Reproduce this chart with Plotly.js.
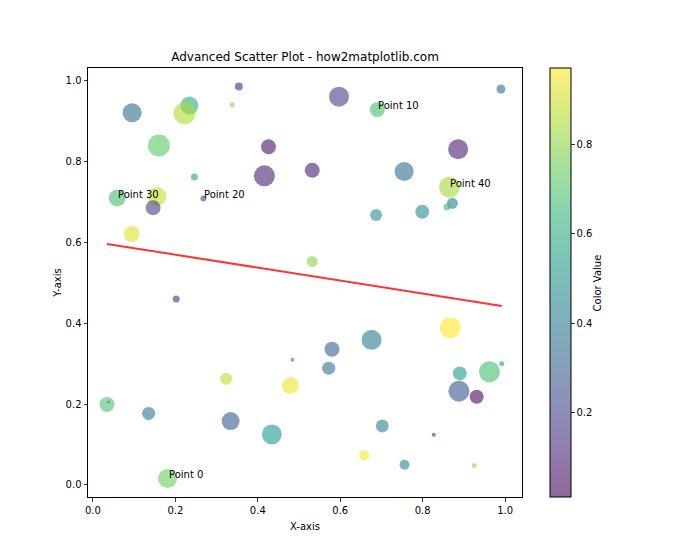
<!DOCTYPE html>
<html>
<head>
<meta charset="utf-8">
<script src="https://cdn.plot.ly/plotly-3.0.1.min.js"></script>
<style>html,body{margin:0;padding:0;background:#fff;}#chart{width:700px;height:560px;}</style>
</head>
<body>
<div id="chart"></div>
<script>
// Data
const xVals = [0.181,0.095,0.234,0.222,0.354,0.338,0.160,0.426,0.416,0.246,
               0.690,0.155,0.146,0.094,0.597,0.990,0.886,0.532,0.755,0.872,
               0.268,0.859,0.687,0.799,0.532,0.202,0.484,0.323,0.479,0.034,
               0.059,0.038,0.135,0.334,0.434,0.867,0.676,0.580,0.572,0.890,
               0.865,0.962,0.992,0.888,0.931,0.702,0.827,0.658,0.756,0.925];
const yVals = [0.016,0.921,0.939,0.920,0.986,0.941,0.840,0.837,0.765,0.762,
               0.929,0.714,0.686,0.621,0.961,0.980,0.831,0.779,0.776,0.697,
               0.709,0.688,0.668,0.676,0.553,0.460,0.310,0.263,0.246,0.199,
               0.710,0.205,0.177,0.158,0.125,0.389,0.359,0.336,0.289,0.276,
               0.737,0.280,0.300,0.232,0.218,0.146,0.124,0.073,0.050,0.048];
const colorVals = [0.75,0.35,0.60,0.85,0.12,0.78,0.72,0.06,0.10,0.57,
                   0.68,0.88,0.18,0.92,0.20,0.35,0.08,0.08,0.35,0.42,
                   0.20,0.65,0.48,0.47,0.80,0.15,0.38,0.87,0.95,0.70,
                   0.68,0.45,0.38,0.28,0.52,0.97,0.40,0.30,0.36,0.53,
                   0.84,0.68,0.58,0.25,0.03,0.45,0.15,0.96,0.45,0.82];
const sizeVals = [19,19,18,22,8,5,22,15,21,7,
                  15,19,15,16,20,9,20,15,19,11,
                  6,7,12,14,11,7,4,12,17,15,
                  17,3,13,18,20,21,20,15,13,14,
                  21,21,5,21,14,13,4,10,10,5];
const labelIdx = [0,10,20,30,40];
const trendSlope = -0.1606;
const trendIntercept = 0.602;
const colorTicks = [0.2,0.4,0.6,0.8];
const colorTickText = ['0.2','0.4','0.6','0.8'];

const viridisStops = [[0,'68,1,84'],[0.111,'72,40,120'],[0.222,'62,74,137'],[0.333,'49,104,142'],
  [0.444,'38,130,142'],[0.556,'31,158,137'],[0.667,'53,183,121'],[0.778,'110,206,88'],
  [0.889,'181,222,43'],[1,'253,231,37']];
const viridis = viridisStops.map(s=>[s[0],'rgb('+s[1]+')']);
// colorbar drawn as if at alpha 0.6 over white
const viridisFaded = viridisStops.map(s=>{
  const c = s[1].split(',').map(Number).map(v=>Math.round(0.6*v+0.4*255));
  return [s[0],'rgb('+c.join(',')+')'];
});

const xMin = Math.min(...xVals), xMax = Math.max(...xVals);
const font = {family:'DejaVu Sans, sans-serif', size:10, color:'#000'};

const traces = [{
  type:'scatter', mode:'markers', x:xVals, y:yVals, hoverinfo:'skip',
  marker:{size:sizeVals, color:colorVals, colorscale:viridis, cmin:0.01, cmax:0.972,
    opacity:0.6, line:{width:0}, showscale:false},
  showlegend:false
},{
  // colorbar carrier (invisible markers)
  type:'scatter', mode:'markers', x:xVals, y:yVals, hoverinfo:'skip',
  marker:{
    size:sizeVals, color:colorVals, colorscale:viridisFaded, cmin:0.01, cmax:0.972, opacity:0,
    showscale:true,
    colorbar:{
      x:1.0645, xanchor:'left', xpad:0, ypad:0, y:0.5, yanchor:'middle', len:1, lenmode:'fraction',
      thickness:21, thicknessmode:'pixels', outlinewidth:1, outlinecolor:'#000',
      tickvals:colorTicks, ticktext:colorTickText, ticks:'outside', ticklen:3.5,
      tickwidth:0.8, tickcolor:'#000', tickfont:font
    }
  },
  showlegend:false
},{
  type:'scatter', mode:'lines', x:[xMin,xMax],
  y:[trendIntercept+trendSlope*xMin, trendIntercept+trendSlope*xMax],
  line:{color:'rgba(255,0,0,0.8)', width:2}, hoverinfo:'skip', showlegend:false
}];

const annotations = labelIdx.map(i=>({
  x:xVals[i], y:yVals[i], xref:'x', yref:'y', text:'Point '+i, showarrow:false,
  xanchor:'left', yanchor:'middle', yshift:4, xshift:-1, font:font
}));
annotations.push({
  x:1.175, y:0.5, xref:'paper', yref:'paper', text:'Color Value', showarrow:false,
  textangle:-90, xanchor:'center', yanchor:'middle', font:font
});

const axisCommon = {showgrid:false, zeroline:false, showline:true, linecolor:'#000', linewidth:1,
  mirror:true, ticks:'outside', ticklen:3.5, tickwidth:0.8, tickcolor:'#000', tickfont:font};

const layout = {
  width:700, height:560, paper_bgcolor:'#fff', plot_bgcolor:'#fff',
  margin:{l:88, r:178, t:68, b:63},
  title:{text:'Advanced Scatter Plot - how2matplotlib.com', font:{family:'DejaVu Sans, sans-serif', size:12, color:'#000'},
         x:0.5, xref:'paper', y:1, yref:'paper', yanchor:'bottom', pad:{b:7}},
  xaxis:Object.assign({}, axisCommon, {range:[-0.012,1.041], tickvals:[0,0.2,0.4,0.6,0.8,1.0],
    ticktext:['0.0','0.2','0.4','0.6','0.8','1.0'], title:{text:'X-axis', font:font, standoff:8}}),
  yaxis:Object.assign({}, axisCommon, {range:[-0.03,1.032], tickvals:[0,0.2,0.4,0.6,0.8,1.0],
    ticktext:['0.0','0.2','0.4','0.6','0.8','1.0'], title:{text:'Y-axis', font:font, standoff:2}}),
  annotations:annotations
};

Plotly.newPlot('chart', traces, layout, {displayModeBar:false, staticPlot:true});
</script>
</body>
</html>
